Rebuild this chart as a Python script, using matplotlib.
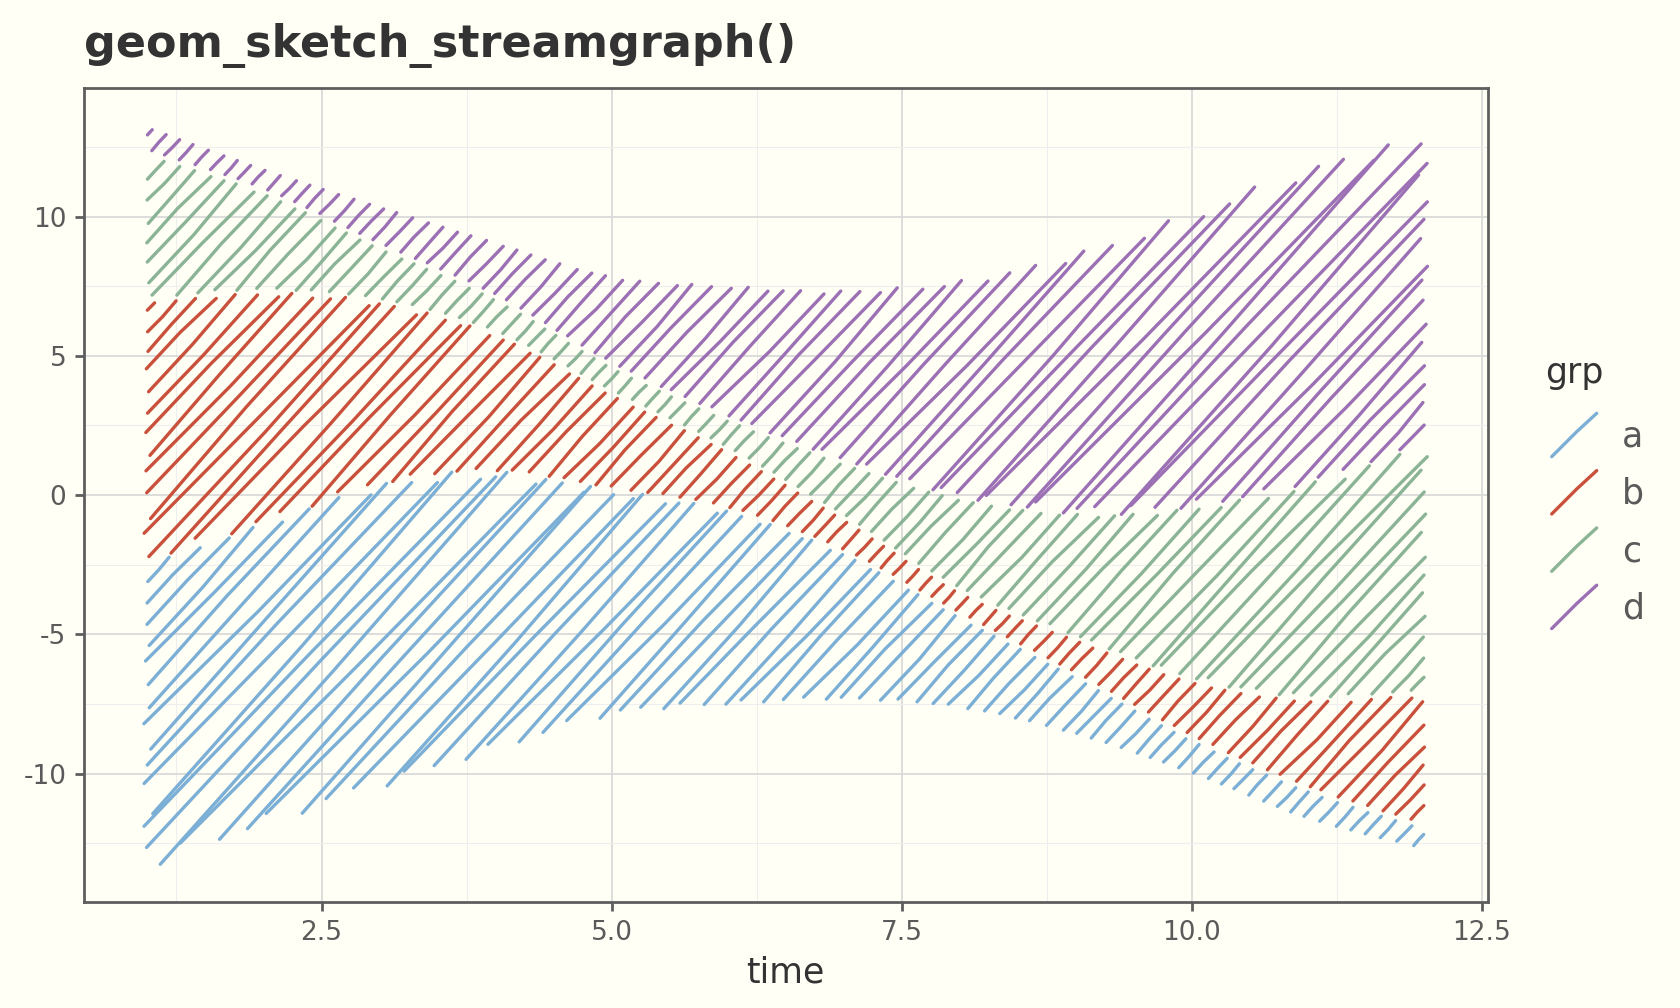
import numpy as np
import matplotlib
matplotlib.use("Agg")
import matplotlib.pyplot as plt
from matplotlib.collections import LineCollection
from matplotlib.lines import Line2D

# ---------------- data ----------------
time = [1, 2, 3, 4, 5, 6, 7, 8, 9, 10, 11, 12]
grp_a = [10.9, 10.8, 10.8, 9.95, 8.1, 7.05, 5.35, 3.4, 2.2, 1.35, 1.15, 0.9]
grp_b = [9.4, 8.3, 6.6, 5.0, 3.5, 2.15, 1.25, 0.9, 1.35, 2.1, 3.25, 4.8]
grp_c = [5.3, 3.6, 2.0, 1.3, 1.0, 1.15, 2.0, 3.35, 4.5, 6.2, 7.7, 8.9]
grp_d = [1.0, 0.9, 1.5, 2.05, 3.25, 4.8, 6.2, 7.78, 9.3, 10.5, 11.3, 11.0]
groups = ["a", "b", "c", "d"]
group_colors = ["#7BAFD6", "#C9513C", "#8BB496", "#9C70B4"]

x_ticks = [2.5, 5.0, 7.5, 10.0, 12.5]
x_tick_labels = ["2.5", "5.0", "7.5", "10.0", "12.5"]
y_ticks = [-10, -5, 0, 5, 10]
y_tick_labels = ["-10", "-5", "0", "5", "10"]
x_minor = [1.25, 3.75, 6.25, 8.75, 11.25]
y_minor = [-12.5, -7.5, -2.5, 2.5, 7.5, 12.5]

BG = "#FFFFF5"

# ---------------- stacking (mirror streamgraph) ----------------
values = np.array([grp_a, grp_b, grp_c, grp_d], dtype=float)
total = values.sum(axis=0)
base = -total / 2.0
bounds = np.vstack([base, base + np.cumsum(values, axis=0)])


def smooth(x, y, xs):
    x = np.asarray(x, float)
    y = np.asarray(y, float)
    m = np.empty_like(y)
    m[1:-1] = (y[2:] - y[:-2]) / (x[2:] - x[:-2])
    m[0] = (y[1] - y[0]) / (x[1] - x[0])
    m[-1] = (y[-1] - y[-2]) / (x[-1] - x[-2])
    idx = np.clip(np.searchsorted(x, xs) - 1, 0, len(x) - 2)
    h = x[idx + 1] - x[idx]
    s = (xs - x[idx]) / h
    h00 = 2 * s**3 - 3 * s**2 + 1
    h10 = s**3 - 2 * s**2 + s
    h01 = -2 * s**3 + 3 * s**2
    h11 = s**3 - s**2
    return h00 * y[idx] + h10 * h * m[idx] + h01 * y[idx + 1] + h11 * h * m[idx + 1]


# ---------------- figure ----------------
fig = plt.figure(figsize=(8.4, 5.04), dpi=200, facecolor=BG)
pos = [0.0498, 0.1047, 0.8357, 0.8083]
ax = fig.add_axes(pos, facecolor=BG)

tmin, tmax = min(time), max(time)
xmin = tmin - 0.05 * (tmax - tmin)
xmax = tmax + 0.05 * (tmax - tmin)
ylo, yhi = bounds.min(), bounds.max()
ymin = ylo - 0.05 * (yhi - ylo)
ymax = yhi + 0.05 * (yhi - ylo)
ax.set_xlim(xmin, xmax)
ax.set_ylim(ymin, ymax)

W = fig.get_figwidth() * fig.dpi * pos[2]
H = fig.get_figheight() * fig.dpi * pos[3]
ppx = W / (xmax - xmin)
ppy = H / (ymax - ymin)

tt = np.linspace(tmin, tmax, 4000)
curves = [smooth(time, bounds[k], tt) for k in range(5)]
Xs = (tt - xmin) * ppx
Xmid = 0.5 * (Xs[0] + Xs[-1])
span = Xs[-1] - Xs[0]

dv = 20.5          # vertical spacing of hatch strokes (px)
gap = 3.0          # inset from band edges (px)
slope = np.tan(np.deg2rad(47.0))

for k, (g, col) in enumerate(zip(groups, group_colors)):
    lo = (curves[k] - ymin) * ppy
    hi = (curves[k + 1] - ymin) * ppy
    segs = []
    i0 = int(np.floor((lo.min() - span * 0.6) / dv)) - 2
    i1 = int(np.ceil((hi.max() + span * 0.6) / dv)) + 2
    phase = 6.1 * k
    n = 0
    for i in range(i0, i1 + 1):
        Y0 = i * dv + phase + 1.5 * np.sin(1.3 * i + 0.7 * k)
        Yl = Y0 + slope * (Xs - Xmid)
        inside = (Yl > lo + gap) & (Yl < hi - gap)
        if not inside.any():
            continue
        d = np.diff(inside.astype(int))
        starts = np.where(d == 1)[0] + 1
        ends = np.where(d == -1)[0]
        if inside[0]:
            starts = np.r_[0, starts]
        if inside[-1]:
            ends = np.r_[ends, len(inside) - 1]
        for s, e in zip(starts, ends):
            p0 = np.array([Xs[s], Yl[s]])
            p1 = np.array([Xs[e], Yl[e]])
            L = np.hypot(*(p1 - p0))
            if L < 5:
                continue
            n += 1
            # small hand-drawn wobble: slight rotation and bend
            c = 0.5 * (p0 + p1)
            rot = np.deg2rad(1.8 * np.sin(2.3 * n + k))
            R = np.array([[np.cos(rot), -np.sin(rot)], [np.sin(rot), np.cos(rot)]])
            q0 = c + R @ (p0 - c)
            q1 = c + R @ (p1 - c)
            u = (q1 - q0) / L
            nrm = np.array([-u[1], u[0]])
            bend = min(2.0, 0.02 * L) * np.sin(1.7 * n + 0.5 * k)
            qm = 0.5 * (q0 + q1) + nrm * bend
            pts = [q0, qm, q1]
            segs.append([(xmin + p[0] / ppx, ymin + p[1] / ppy) for p in pts])
    ax.add_collection(LineCollection(segs, colors=col, linewidths=1.2,
                                     capstyle="round", joinstyle="round",
                                     zorder=3))

# ---------------- axes styling ----------------
ax.set_xticks(x_ticks)
ax.set_xticklabels(x_tick_labels)
ax.set_yticks(y_ticks)
ax.set_yticklabels(y_tick_labels)
ax.set_xticks(x_minor, minor=True)
ax.set_yticks(y_minor, minor=True)
ax.grid(which="major", color="#DADADA", linewidth=0.65, zorder=0)
ax.grid(which="minor", color="#EEEEEE", linewidth=0.4, zorder=0)
ax.set_axisbelow(True)
for sp in ax.spines.values():
    sp.set_color("#5E5E5E")
    sp.set_linewidth(1.0)
ax.tick_params(which="major", length=3.2, width=1.0, color="#5E5E5E",
               labelcolor="#5A5A5A", labelsize=9.5, pad=3)
ax.tick_params(which="minor", length=0)
ax.set_xlabel("time", fontsize=12.5, color="#333333", labelpad=3.5)

fig.text(0.05, 1 - 56.7 / 1008, "geom_sketch_streamgraph()", fontsize=16,
         fontweight="bold", color="#333333", va="baseline", ha="left")

# ---------------- legend ----------------
fig.text(1545 / 1680, 1 - 383.3 / 1008, "grp", fontsize=12.5, color="#333333",
         va="baseline", ha="left")
step = 57.3 / 1008
for j, (g, col) in enumerate(zip(groups, group_colors)):
    yb = 1 - 456.7 / 1008 - j * step
    xs_ = [1551.7 / 1680, 1576.7 / 1680, 1596.7 / 1680]
    ys_ = [yb, yb + 25.0 / 1008, yb + 43.4 / 1008]
    fig.add_artist(Line2D(xs_, ys_, transform=fig.transFigure, color=col,
                          linewidth=1.2, solid_capstyle="round"))
    fig.text(1621.7 / 1680, 1 - 446.7 / 1008 - j * step, g, fontsize=12.5,
             color="#5A5A5A", va="baseline", ha="left")

fig.savefig("out.png", dpi=200, facecolor=BG)
